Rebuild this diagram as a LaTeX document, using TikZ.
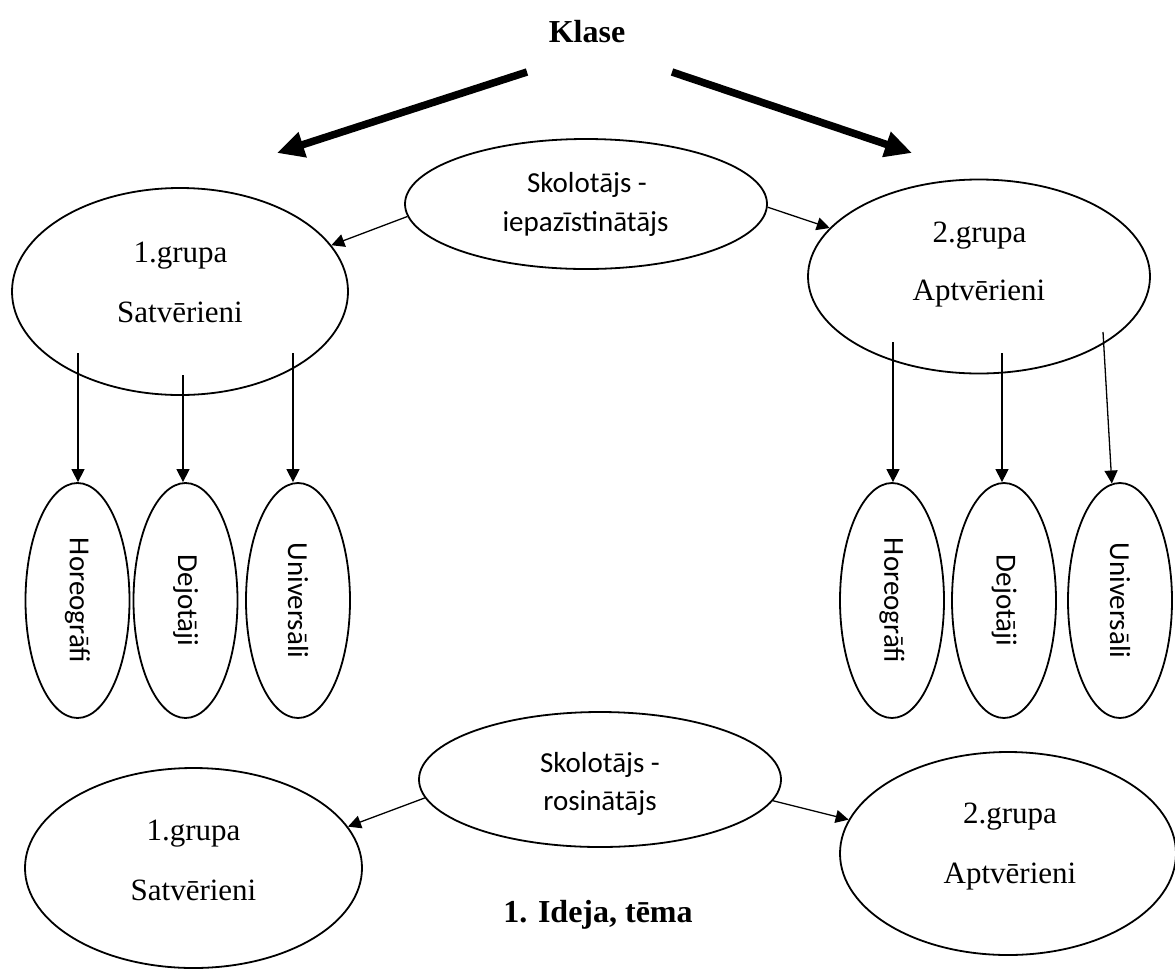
\documentclass[tikz,border=0pt]{standalone}
\usepackage{fontspec}
\setmainfont{Liberation Serif}
\newfontfamily\carl{Carlito}
\usetikzlibrary{shapes.geometric,arrows.meta}
\begin{document}
\begin{tikzpicture}[x=1pt,y=-1pt,
  ell/.style={draw, ellipse, line width=1.8pt, inner sep=0pt},
  serif/.style={font=\fontsize{31}{37}\selectfont, anchor=base, inner sep=0pt},
  sans/.style={font=\carl\fontsize{29}{35}\selectfont, anchor=base, inner sep=0pt},
  heading/.style={font=\bfseries\fontsize{32}{38}\selectfont, anchor=base, inner sep=0pt},
  arr/.style={line width=1.3pt, -{Triangle[length=13pt,width=13pt]}},
  bigarr/.style={line width=7.5pt, -{Triangle[length=27pt,width=25pt]}},
  small/.style={ell, minimum width=104pt, minimum height=235pt, font=\carl\fontsize{29}{35}\selectfont}
]
\useasboundingbox (0,0) rectangle (1175,970);

% heading
\node[heading] (klase) at (587,42) {Klase};
\coordinate (kL0) at (527,72);
\coordinate (kL1) at (277,153);
\coordinate (kR0) at (672,72);
\coordinate (kR1) at (912,153);
\draw[bigarr] (kL0) -- (kL1);
\draw[bigarr] (kR0) -- (kR1);

% top teacher ellipse
\node[ell, minimum width=362pt, minimum height=130pt] (t1) at (586,204) {};
\node[sans] (t1a) at (587,192) {Skolotājs -};
\node[sans] (t1b) at (585.5,231) {iepazīstinātājs};

% group ellipses (top)
\node[ell, minimum width=336pt, minimum height=207pt] (g1) at (180,291.5) {};
\node[serif] (g1a) at (180.5,262) {1.grupa};
\node[serif] (g1b) at (180,322) {Satvērieni};

\node[ell, minimum width=342pt, minimum height=194pt] (g2) at (979,276.5) {};
\node[serif] (g2a) at (979.5,242) {2.grupa};
\node[serif] (g2b) at (979,300) {Aptvērieni};

\draw[arr] (t1.184) -- (g1.17);
\draw[arr] (t1.-1) -- (g2.162);

% small ellipses left
\node[small] (h1) at (77.5,600.5) {\rotatebox{-90}{Horeogrāfi}};
\node[small] (d1) at (185.5,600.5) {\rotatebox{-90}{Dejotāji}};
\node[small] (u1) at (298,600.5) {\rotatebox{-90}{Universāli}};

\coordinate (s1) at (78,353);
\coordinate (s2) at (183,375);
\coordinate (s3) at (293,353);
\draw[arr] (s1) -- (s1 |- h1.north);
\draw[arr] (s2) -- (s2 |- d1.north);
\draw[arr] (s3) -- (s3 |- u1.north);

% small ellipses right
\node[small] (h2) at (892,600.5) {\rotatebox{-90}{Horeogrāfi}};
\node[small] (d2) at (1004,600.5) {\rotatebox{-90}{Dejotāji}};
\node[small] (u2) at (1120,600.5) {\rotatebox{-90}{Universāli}};

\coordinate (r1) at (893,342);
\coordinate (r2) at (1002,353);
\coordinate (r3) at (1103,332);
\draw[arr] (r1) -- (r1 |- h2.north);
\draw[arr] (r2) -- (r2 |- d2.north);
\draw[arr] (r3) -- (u2.94);

% bottom teacher ellipse
\node[ell, minimum width=362pt, minimum height=135pt] (t2) at (600,779.5) {};
\node[sans] (t2a) at (600,772) {Skolotājs -};
\node[sans] (t2b) at (600,810) {rosinātājs};

% bottom groups
\node[ell, minimum width=337pt, minimum height=200pt] (g3) at (193.5,868) {};
\node[serif] (g3a) at (193.5,840) {1.grupa};
\node[serif] (g3b) at (193.5,900) {Satvērieni};

\node[ell, minimum width=336pt, minimum height=203pt] (g4) at (1008,853.5) {};
\node[serif] (g4a) at (1010,823) {2.grupa};
\node[serif] (g4b) at (1010,883) {Aptvērieni};

\draw[arr] (t2.186) -- (g3.15);
\draw[arr] (t2.-7) -- (g4.168);

\node[heading] (idea) at (598,922) {1. Ideja, tēma};
\end{tikzpicture}
\end{document}
